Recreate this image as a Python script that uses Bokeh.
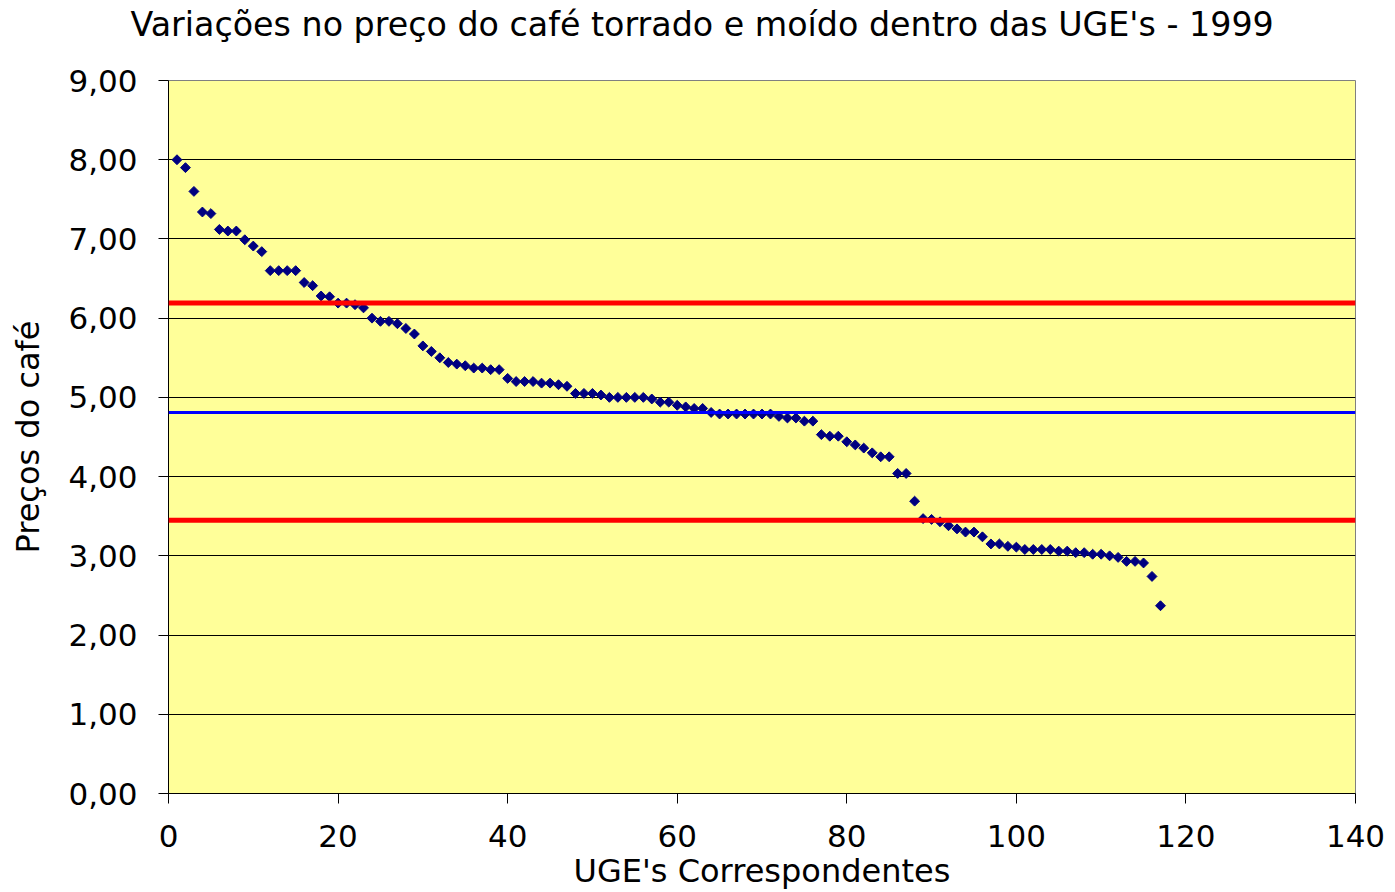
import math
from bokeh.plotting import figure
from bokeh.models import Span, Title, FixedTicker
from bokeh.embed import file_html
from bokeh.resources import INLINE

# Data
uge = list(range(1, 118))
precos = [
    8.00, 7.90, 7.60, 7.34, 7.32, 7.12, 7.10, 7.10, 6.99, 6.91,
    6.84, 6.60, 6.60, 6.60, 6.60, 6.45, 6.41, 6.28, 6.27, 6.19,
    6.19, 6.17, 6.13, 6.00, 5.96, 5.96, 5.93, 5.87, 5.80, 5.65,
    5.58, 5.50, 5.44, 5.42, 5.40, 5.37, 5.37, 5.35, 5.35, 5.24,
    5.20, 5.20, 5.20, 5.18, 5.18, 5.16, 5.14, 5.05, 5.05, 5.05,
    5.03, 5.00, 5.00, 5.00, 5.00, 5.00, 4.98, 4.94, 4.94, 4.90,
    4.88, 4.86, 4.86, 4.81, 4.79, 4.79, 4.79, 4.79, 4.79, 4.79,
    4.79, 4.76, 4.74, 4.74, 4.70, 4.70, 4.53, 4.51, 4.51, 4.44,
    4.40, 4.36, 4.30, 4.25, 4.25, 4.04, 4.04, 3.69, 3.47, 3.46,
    3.43, 3.38, 3.34, 3.30, 3.30, 3.24, 3.15, 3.15, 3.12, 3.11,
    3.08, 3.08, 3.08, 3.08, 3.06, 3.06, 3.04, 3.04, 3.02, 3.02,
    3.00, 2.98, 2.93, 2.93, 2.91, 2.74, 2.37,
]
media = 4.81
limite_superior = 6.19
limite_inferior = 3.45

x_ticks = [0, 20, 40, 60, 80, 100, 120, 140]
y_ticks = [0, 1, 2, 3, 4, 5, 6, 7, 8, 9]
y_tick_labels = ["0,00", "1,00", "2,00", "3,00", "4,00", "5,00", "6,00", "7,00", "8,00", "9,00"]

titulo = "Variações no preço do café torrado e moído dentro das UGE's - 1999"
FONT = "DejaVu Sans"

p = figure(width=1387, height=892, x_range=(0, 140), y_range=(0, 9),
           output_backend="svg", toolbar_location=None,
           min_border_left=168, min_border_right=32, min_border_top=80, min_border_bottom=99)

p.background_fill_color = "#FFFF99"
p.border_fill_color = "white"
p.outline_line_color = "#808080"
p.outline_line_width = 1

# title (with an invisible spacer panel between title and frame)
p.title.text = titulo
p.title.align = "left"
p.title.offset = -38
p.title.text_font = FONT
p.title.text_font_size = "33.3px"
p.title.text_font_style = "normal"
p.title.text_color = "black"
p.title.standoff = 2
p.title.vertical_align = "bottom"
p.add_layout(Title(text=" ", text_font_size="1px", standoff=33), "above")

# grid
p.xgrid.grid_line_color = None
p.ygrid.grid_line_color = "black"
p.ygrid.grid_line_width = 1

# axes
p.xaxis.ticker = FixedTicker(ticks=x_ticks)
p.yaxis.ticker = FixedTicker(ticks=y_ticks)
p.yaxis.major_label_overrides = {t_: l for t_, l in zip(y_ticks, y_tick_labels)}
for ax in (p.xaxis[0], p.yaxis[0]):
    ax.axis_line_color = "black"
    ax.axis_line_width = 1
    ax.major_tick_line_color = "black"
    ax.major_tick_out = 10
    ax.major_tick_in = 0
    ax.minor_tick_line_color = None
    ax.major_label_text_font = FONT
    ax.major_label_text_font_size = "31px"
    ax.major_label_text_color = "black"
    ax.axis_label_text_font = FONT
    ax.axis_label_text_font_size = "32px"
    ax.axis_label_text_font_style = "normal"
    ax.axis_label_text_color = "black"

p.xaxis.axis_label = "UGE's Correspondentes"
p.yaxis.axis_label = "Preços do café"
p.xaxis.major_label_standoff = 21
p.xaxis.axis_label_standoff = 2
p.yaxis.major_label_standoff = 21
p.yaxis.axis_label_standoff = 18

# reference lines
p.add_layout(Span(location=limite_superior, dimension="width", line_color="#FF0000", line_width=5))
p.add_layout(Span(location=media, dimension="width", line_color="#0000FF", line_width=3))
p.add_layout(Span(location=limite_inferior, dimension="width", line_color="#FF0000", line_width=5))

# points
p.scatter(uge, precos, marker="square", angle=math.pi / 4, size=7,
          fill_color="#000080", line_color="#000080")

open("out.html", "w").write(file_html(p, INLINE))
